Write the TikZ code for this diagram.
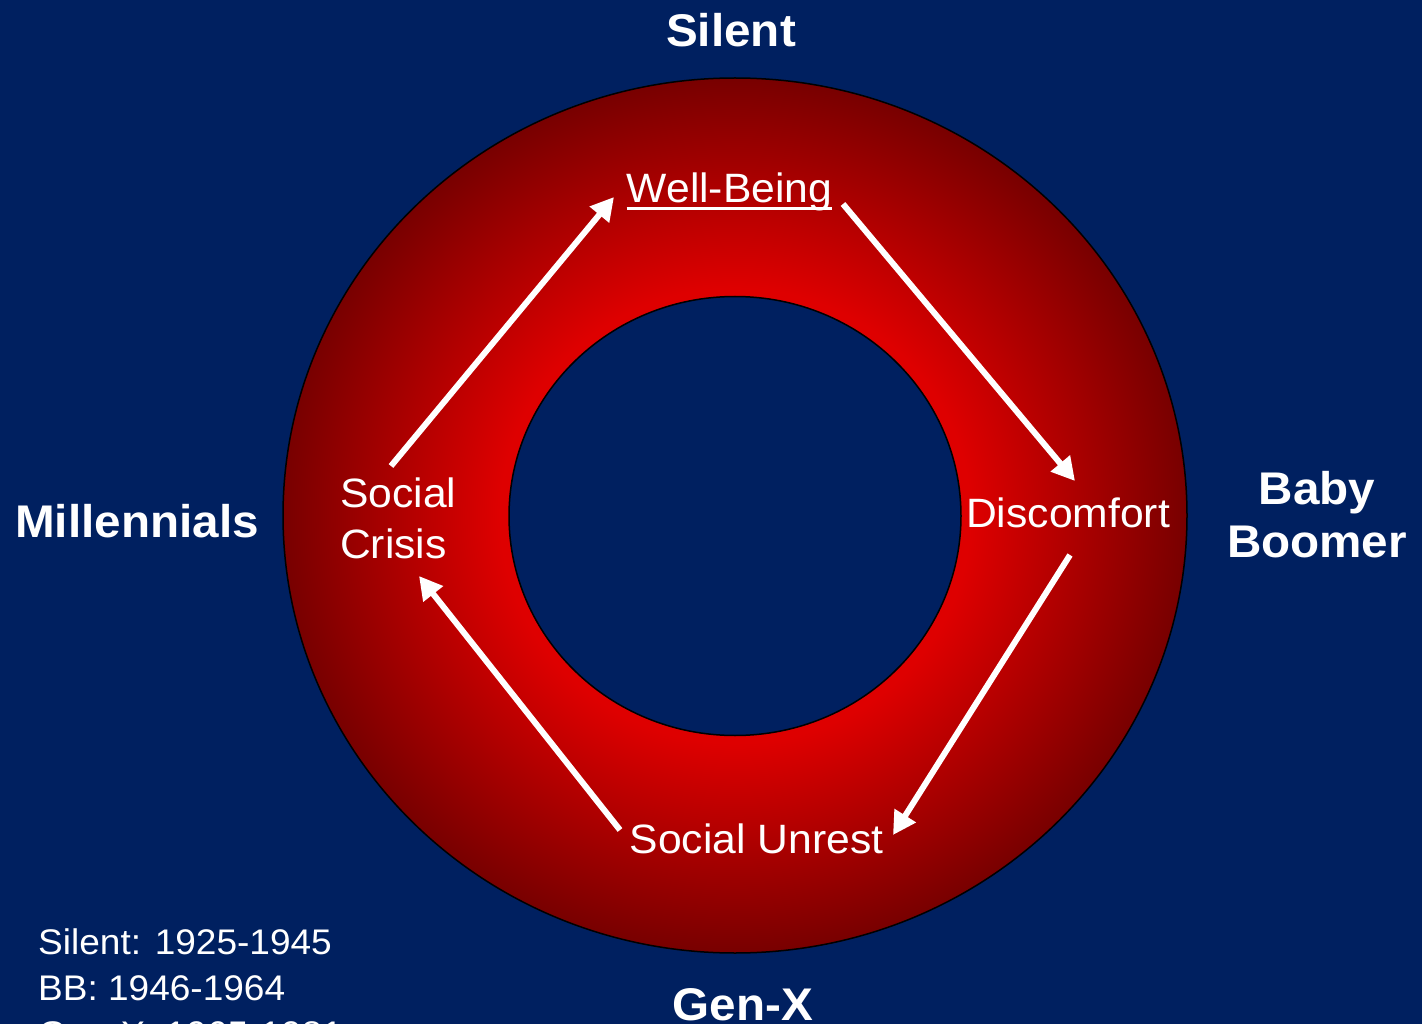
\documentclass[tikz,border=0pt]{standalone}
\usepackage{fontspec}
\setmainfont{Liberation Sans}[FakeStretch=1.04]
\usetikzlibrary{arrows.meta}
\definecolor{bgblue}{HTML}{002060}
\definecolor{ringbright}{HTML}{DE0000}
\definecolor{ringdark}{HTML}{780000}
\pgfdeclareradialshading{ringshade}{\pgfpoint{0bp}{0bp}}{color(0bp)=(ringbright); color(13bp)=(ringbright); color(25bp)=(ringdark); color(50bp)=(ringdark)}
\begin{document}
\begin{tikzpicture}[x=1pt,y=-1pt,
  genlabel/.style={text=white, font=\bfseries\fontsize{45.8}{53}\selectfont, inner sep=0pt},
  phaselabel/.style={text=white, font=\fontsize{41}{51}\selectfont, inner sep=0pt},
  legendtext/.style={text=white, font=\fontsize{35.6}{46}\selectfont, inner sep=0pt, align=left},
  cycarrow/.style={draw=white, line width=6pt, -{Triangle[length=23pt,width=24pt]}},
  ringline/.style={draw=black, line width=1.5pt}
]
\useasboundingbox (0,0) rectangle (1422,1024);
\fill[bgblue] (0,0) rectangle (1422,1024);

% ring
\shade[shading=ringshade] (735,515.5) ellipse [x radius=452pt, y radius=437.5pt];
\draw[ringline] (735,515.5) ellipse [x radius=452pt, y radius=437.5pt];
\filldraw[fill=bgblue, ringline] (735,516) ellipse [x radius=226pt, y radius=219.5pt];

% generation labels
\node[genlabel, anchor=base] (silent) at (731,46.5) {Silent};
\node[genlabel, anchor=base] (mill) at (137,537) {Millennials};
\node[genlabel, anchor=base, align=center] (boomer) at (1317,557) {Baby\\Boomer};
\node[genlabel, anchor=base] (genx) at (743,1020.5) {Gen-X};

% phase labels
\node[phaselabel, anchor=base] (well) at (729.5,203) {Well-Being};
\draw[white, line width=3pt] ([yshift=-5.3pt]well.base west) -- ([yshift=-5.3pt]well.base east);
\node[phaselabel, anchor=base] (disc) at (1068,527.5) {Discomfort};
\node[phaselabel, anchor=base] (unrest) at (756.5,853) {Social Unrest};
\node[phaselabel, anchor=base west, align=left] (crisis) at (340,558.5) {Social\\Crisis};

% legend
\node[legendtext, anchor=base west] (legend) at (38,1046.5) {Silent: 1925-1945\\BB: 1946-1964\\Gen-X: 1965-1981};

% arrows
\coordinate (a1s) at (391,466);
\coordinate (a1e) at (614,197);
\coordinate (a2s) at (843,204);
\coordinate (a2e) at (1075,481);
\coordinate (a3s) at (1070,555);
\coordinate (a3e) at (893,835);
\coordinate (a4s) at (620,830);
\coordinate (a4e) at (419,576);
\draw[cycarrow] (a1s) -- (a1e);
\draw[cycarrow] (a2s) -- (a2e);
\draw[cycarrow] (a3s) -- (a3e);
\draw[cycarrow] (a4s) -- (a4e);
\end{tikzpicture}
\end{document}
